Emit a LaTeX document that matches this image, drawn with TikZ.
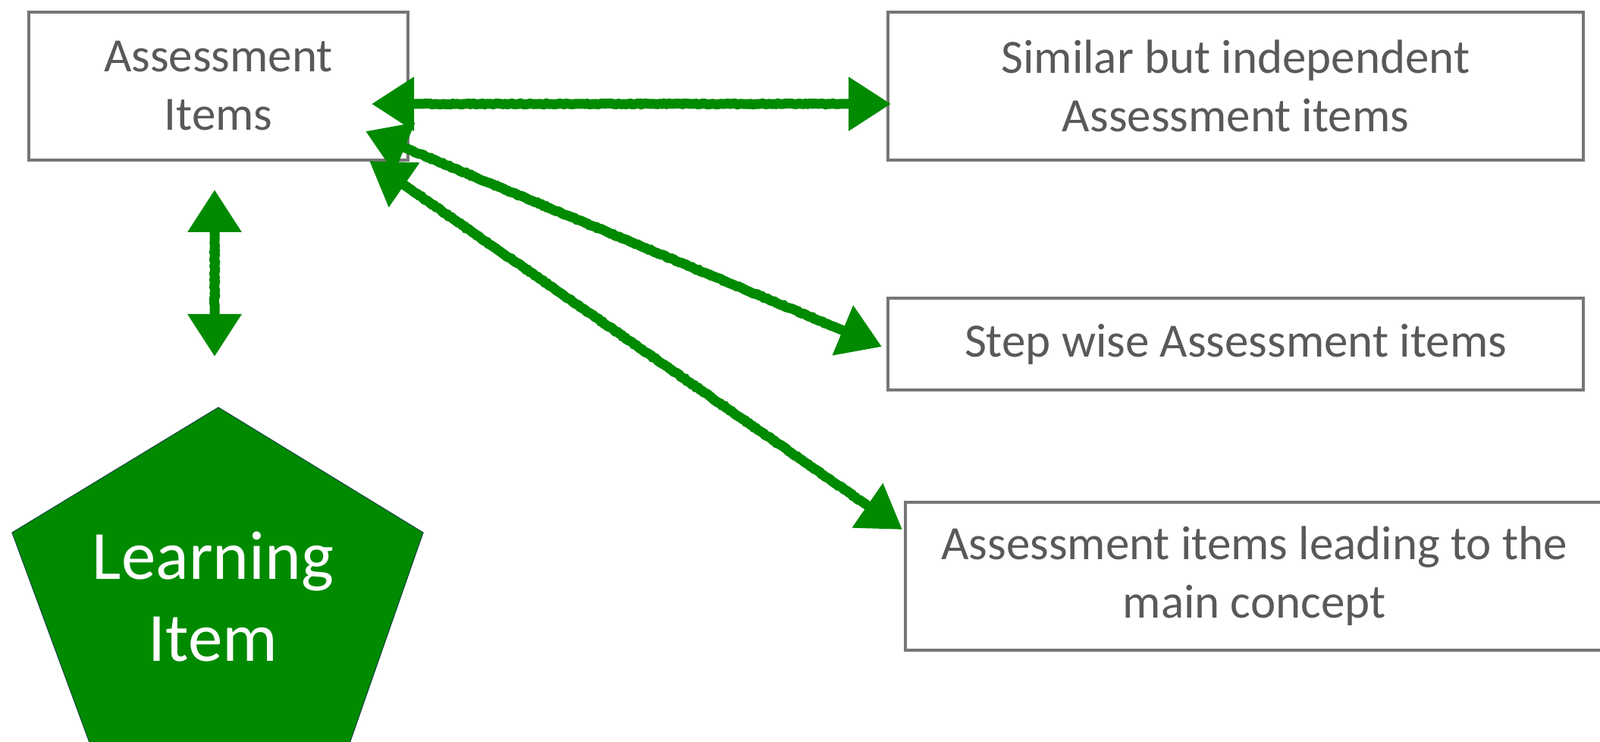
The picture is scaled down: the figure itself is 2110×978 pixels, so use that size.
\documentclass[tikz,border=0pt]{standalone}
\usepackage{fontspec}
\setmainfont{Carlito}
\usetikzlibrary{arrows.meta,decorations.pathmorphing}

\definecolor{itemgreen}{RGB}{0,138,0}
\definecolor{itemgrey}{RGB}{89,89,89}
\definecolor{framegrey}{RGB}{118,118,118}

\tikzset{
  itembox/.style={draw=framegrey, line width=2pt, rectangle, align=center,
    text=itemgrey, font=\fontsize{31.5}{38.5}\selectfont, inner sep=0pt},
  twoway/.style={draw=itemgreen, line width=6.5pt, line cap=round,
    {Triangle[length=28pt,width=34pt]}-{Triangle[length=28pt,width=34pt]},
    decorate, decoration={random steps, segment length=1.5pt, amplitude=0.35pt,
      pre length=34pt, post length=34pt}}
}

\begin{document}
\begin{tikzpicture}[x=0.5pt, y=-0.5pt]

\clip (0,0) rectangle (2110,978);

% learning item
\path[fill=itemgreen, draw={rgb,255:red,20;green,80;blue,60}, line width=0.6pt]
  (288,537) -- (558,702) -- (433,1060) -- (148,1060) -- (16,702) -- cycle;
\node[text=white, align=center, font=\fontsize{45.5}{54}\selectfont] (learn) at (281,787) {Learning\\Item};

% boxes
\path
(288,113.5) node[itembox, minimum width=250pt, minimum height=97.5pt] (items) {Assessment\\Items}
(1629.5,113.5) node[itembox, minimum width=458.5pt, minimum height=97.5pt] (similar) {Similar but independent\\Assessment items}
(1629.5,453.5) node[itembox, minimum width=458.5pt, minimum height=60.5pt] (stepwise) {Step wise Assessment items}
(1654,759.5) node[itembox, minimum width=460pt, minimum height=97.5pt] (leading) {Assessment items leading to the\\main concept}
;

% arrow ends
\coordinate (ia) at (490,137);
\coordinate (ib) at (482,173);
\coordinate (ic) at (487,212);
\coordinate (sa) at (1175,137);
\coordinate (sb) at (1163,457);
\coordinate (sc) at (1190,698);
\coordinate (up) at (283,250);
\coordinate (down) at (283,470);

\draw[twoway] (ia) -- (sa);
\draw[twoway] (ib) -- (sb);
\draw[twoway] (ic) -- (sc);
\draw[twoway] (up) -- (down);

\end{tikzpicture}
\end{document}
